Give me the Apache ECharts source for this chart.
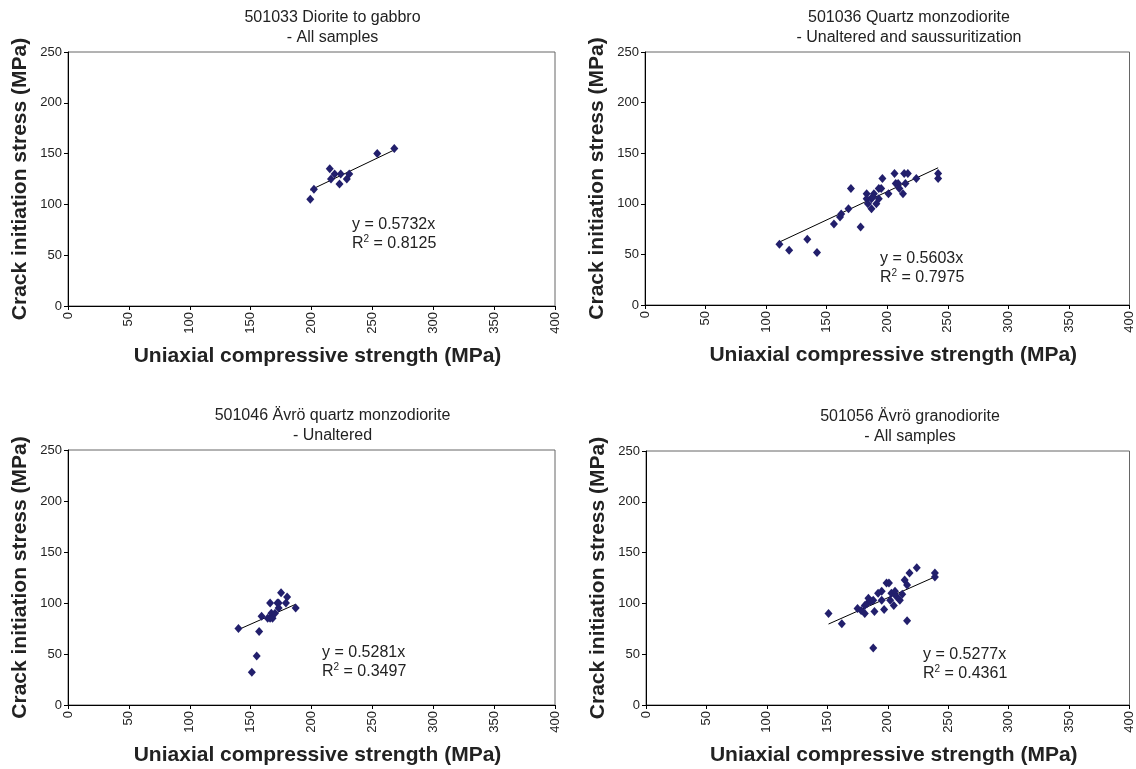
<!DOCTYPE html>
<html><head><meta charset="utf-8">
<script src="https://cdn.jsdelivr.net/npm/echarts@6/dist/echarts.min.js"></script>
<style>html,body{margin:0;padding:0;background:#fff}#c{width:1136px;height:769px}</style>
</head><body><div id="c"></div>
<script>
// ---- data ----
const xAxisTitle = 'Uniaxial compressive strength (MPa)';
const yAxisTitle = 'Crack initiation stress (MPa)';
const xMin = 0, xMax = 400, xStep = 50;
const yMin = 0, yMax = 250, yStep = 50;

const titles = [
  '501033 Diorite to gabbro\n- All samples',
  '501036 Quartz monzodiorite\n- Unaltered and saussuritization',
  '501046 Ävrö quartz monzodiorite\n- Unaltered',
  '501056 Ävrö granodiorite\n- All samples'
];
const slopes = [0.5732, 0.5603, 0.5281, 0.5277];
const r2s = ['0.8125', '0.7975', '0.3497', '0.4361'];

const ucs501033 = [199,202,215,216,219,224,223,229,231,254,268];
const cis501033 = [105,115,135,125,130,130,120,125,130,150,155];

const ucs501036 = [111,119,134,142,156,161,162,168,170,178,183,183,184,187,187,189,188,191,193,193,195,196,201,206,207,209,210,213,214,215,217,224,242,242];
const cis501036 = [60,54,65,52,80,87,90,95,115,77,110,105,100,95,105,110,107,100,105,115,115,125,110,130,120,120,115,110,130,120,130,125,125,130];

const ucs501046 = [140,151,155,157,159,164,166,166,167,168,170,172,173,173,175,179,180,187];
const cis501046 = [75,32,48,72,87,85,85,100,90,85,90,100,100,95,110,100,106,95];

const ucs501056 = [151,162,175,178,181,181,183,184,186,188,188,189,192,195,195,197,199,201,202,203,205,206,207,210,212,214,216,216,218,224,239,239];
const cis501056 = [90,80,95,93,90,98,100,105,102,56,103,92,110,112,103,94,120,120,103,110,98,112,107,103,109,123,118,83,130,135,126,130];

const ucsSets = [ucs501033, ucs501036, ucs501046, ucs501056];
const cisSets = [cis501033, cis501036, cis501046, cis501056];

// ---- layout ----
const gridBoxes = [
  {left: 68, top: 52, width: 487, height: 254},
  {left: 645, top: 52, width: 486, height: 253},
  {left: 68, top: 450, width: 487, height: 255},
  {left: 646, top: 451, width: 486, height: 254}
];
const eqPos = [[347, 210], [875, 244], [317, 638], [918, 640]];

const FONT = 'Liberation Sans, Arial, sans-serif';
const markerColor = '#221f6c';

const option = {
  animation: false,
  backgroundColor: '#fff',
  textStyle: {fontFamily: FONT},
  title: [], grid: [], xAxis: [], yAxis: [], series: []
};

for (let i = 0; i < 4; i++) {
  const g = gridBoxes[i];
  option.grid.push(Object.assign({show: true, borderColor: '#666', borderWidth: 1, containLabel: false}, g));
  option.title.push({
    text: titles[i],
    left: g.left + g.width / 2 + 16, top: g.top - 49, textAlign: 'center',
    textStyle: {fontFamily: FONT, fontSize: 16, fontWeight: 'normal', color: '#222', lineHeight: 20}
  });
  option.title.push({
    text: 'y = ' + slopes[i] + 'x\n{r|R}{s|2}{r| = ' + r2s[i] + '}',
    left: eqPos[i][0], top: eqPos[i][1],
    textStyle: {fontFamily: FONT, fontSize: 16, fontWeight: 'normal', color: '#222', lineHeight: 19,
      rich: {r: {fontFamily: FONT, fontSize: 16, color: '#222', lineHeight: 19},
             s: {fontFamily: FONT, fontSize: 10, color: '#222', lineHeight: 19, verticalAlign: 'top', padding: [0, 0, 8, 0]}}}
  });
  option.xAxis.push({
    type: 'value', gridIndex: i, min: xMin, max: xMax, interval: xStep,
    name: xAxisTitle, nameLocation: 'middle', nameGap: 40,
    nameTextStyle: {fontFamily: FONT, fontSize: 21, fontWeight: 'bold', color: '#222', padding: [0, 0, 0, 12]},
    axisLine: {show: true, lineStyle: {color: '#000', width: 1}},
    axisTick: {show: true, inside: false, length: 4, lineStyle: {color: '#000'}},
    axisLabel: {rotate: 90, margin: 6, fontFamily: FONT, fontSize: 13, color: '#222'},
    splitLine: {show: false}
  });
  option.yAxis.push({
    type: 'value', gridIndex: i, min: yMin, max: yMax, interval: yStep,
    name: yAxisTitle, nameLocation: 'middle', nameGap: 37,
    nameTextStyle: {fontFamily: FONT, fontSize: 21, fontWeight: 'bold', color: '#222'},
    axisLine: {show: true, lineStyle: {color: '#000', width: 1}},
    axisTick: {show: true, inside: false, length: 4, lineStyle: {color: '#000'}},
    axisLabel: {margin: 6, fontFamily: FONT, fontSize: 13, color: '#222'},
    splitLine: {show: false}
  });
  const xs = ucsSets[i], ys = cisSets[i];
  option.series.push({
    type: 'scatter', xAxisIndex: i, yAxisIndex: i, symbol: 'diamond', symbolSize: [8, 9],
    itemStyle: {color: markerColor, opacity: 1},
    data: xs.map((x, k) => [x, ys[k]]), z: 3
  });
  const lo = Math.min.apply(null, xs), hi = Math.max.apply(null, xs);
  option.series.push({
    type: 'line', xAxisIndex: i, yAxisIndex: i, showSymbol: false, symbol: 'none',
    lineStyle: {color: '#000', width: 1}, silent: true,
    data: [[lo, slopes[i] * lo], [hi, slopes[i] * hi]], z: 2
  });
}

const chart = echarts.init(document.getElementById('c'), null, {renderer: 'canvas'});
chart.setOption(option);
</script>
</body></html>
